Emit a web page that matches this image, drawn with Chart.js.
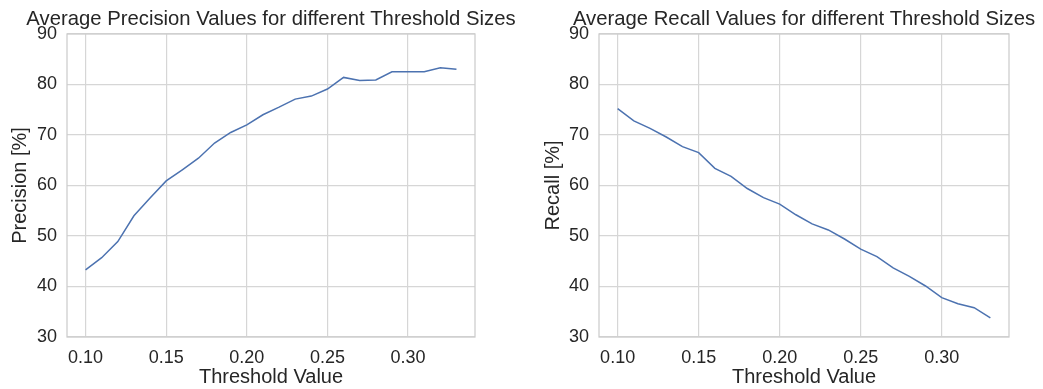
<!DOCTYPE html>
<html>
<head>
<meta charset="utf-8">
<script src="https://cdn.jsdelivr.net/npm/chart.js@4.4.1/dist/chart.umd.min.js"></script>
<style>
  html, body { margin: 0; padding: 0; background: #fff; overflow: hidden; }
  #wrap { position: relative; width: 1043px; height: 389px; }
  .box { position: absolute; top: 0; height: 389px; }
</style>
</head>
<body>
<div id="wrap">
  <div class="box" style="left:0;width:542px"><canvas id="precisionChart" width="542" height="389"></canvas></div>
  <div class="box" style="left:540px;width:528px"><canvas id="recallChart" width="528" height="389"></canvas></div>
</div>
<script>
const thresholds = [0.10, 0.11, 0.12, 0.13, 0.14, 0.15, 0.16, 0.17, 0.18, 0.19, 0.20, 0.21,
                    0.22, 0.23, 0.24, 0.25, 0.26, 0.27, 0.28, 0.29, 0.30, 0.31, 0.32, 0.33];
const precisionValues = [43.3, 45.7, 48.9, 54.0, 57.5, 60.9, 63.1, 65.4, 68.4, 70.5, 72.0, 74.0,
                         75.5, 77.1, 77.7, 79.1, 81.4, 80.8, 80.9, 82.5, 82.5, 82.5, 83.3, 83.0];
const recallValues = [75.2, 72.8, 71.3, 69.6, 67.7, 66.5, 63.4, 61.8, 59.4, 57.6, 56.3, 54.2,
                      52.4, 51.2, 49.4, 47.4, 45.9, 43.7, 42.0, 40.1, 37.8, 36.6, 35.8, 33.8];
const xTicks = [0.10, 0.15, 0.20, 0.25, 0.30];
const yTicks = [30, 40, 50, 60, 70, 80, 90];

const FONT = "'Liberation Sans', Arial, sans-serif";
const TEXT = '#262626';
const GRID = '#d6d6d6';
const LINE = '#4c72b0';

// light grey box round the plot, like seaborn whitegrid spines
const framePlugin = {
  id: 'frame',
  beforeDatasetsDraw(chart) {
    const { ctx, chartArea: a } = chart;
    ctx.save();
    ctx.strokeStyle = '#cccccc';
    ctx.lineWidth = 1.25;
    ctx.strokeRect(a.left, a.top, a.width, a.height);
    ctx.restore();
  }
};

function makeChart(id, values, title, yLabel, yAxisWidth, rightWidth, yTitlePad) {
  const ctx = document.getElementById(id).getContext('2d');
  return new Chart(ctx, {
    type: 'line',
    data: {
      datasets: [{
        data: thresholds.map((t, i) => ({ x: t, y: values[i] })),
        borderColor: LINE,
        borderWidth: 1.5,
        pointRadius: 0,
        fill: false,
        tension: 0
      }]
    },
    options: {
      responsive: false,
      animation: false,
      layout: { padding: 0 },
      plugins: {
        legend: { display: false },
        tooltip: { enabled: false },
        title: {
          display: true,
          text: title,
          color: TEXT,
          font: { family: FONT, size: 20.3, weight: 'normal' },
          padding: { top: 7.5, bottom: 2.1 }
        }
      },
      scales: {
        x: {
          type: 'linear',
          min: 0.0885,
          max: 0.3415,
          afterBuildTicks: s => { s.ticks = xTicks.map(v => ({ value: v })); },
          afterFit: s => { s.height = 52; },
          ticks: {
            color: TEXT,
            padding: 10,
            font: { family: FONT, size: 18 },
            callback: v => v.toFixed(2)
          },
          grid: { color: GRID, lineWidth: 1.2, drawTicks: false },
          border: { display: false },
          title: {
            display: true,
            text: 'Threshold Value',
            color: TEXT,
            font: { family: FONT, size: 20 },
            padding: { top: 0, bottom: 0 }
          }
        },
        y: {
          min: 30,
          max: 90,
          afterBuildTicks: s => { s.ticks = yTicks.map(v => ({ value: v })); },
          afterFit: s => { s.width = yAxisWidth; },
          ticks: {
            color: TEXT,
            padding: 10,
            font: { family: FONT, size: 18 }
          },
          grid: { color: GRID, lineWidth: 1.2, drawTicks: false },
          border: { display: false },
          title: {
            display: true,
            text: yLabel,
            color: TEXT,
            font: { family: FONT, size: 20 },
            padding: { top: yTitlePad, bottom: 0 }
          }
        },
        // empty axis on the right so the plot sits centred under its title
        yRight: {
          position: 'right',
          min: 30,
          max: 90,
          afterFit: s => { s.width = rightWidth; },
          ticks: { display: false },
          grid: { display: false },
          border: { display: false }
        }
      }
    },
    plugins: [framePlugin]
  });
}

makeChart('precisionChart', precisionValues,
  'Average Precision Values for different Threshold Sizes', 'Precision [%]', 67, 67, 8);
makeChart('recallChart', recallValues,
  'Average Recall Values for different Threshold Sizes', 'Recall [%]', 59, 59, 1);
</script>
</body>
</html>
